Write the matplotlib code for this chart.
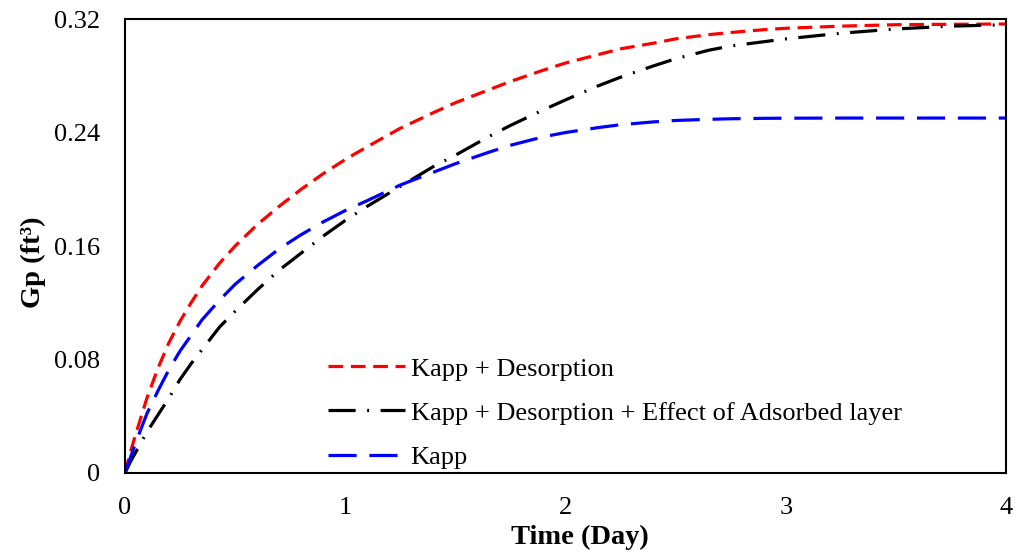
import matplotlib
matplotlib.use("Agg")
import matplotlib.pyplot as plt

plt.rcParams['font.family'] = ['Liberation Serif', 'DejaVu Serif']

time_days = [0, 0.025, 0.05, 0.1, 0.15, 0.2, 0.25, 0.3, 0.35, 0.43, 0.5, 0.6,
             0.7, 0.8, 0.9, 1.0, 1.1, 1.25, 1.4, 1.5, 1.65, 1.75, 1.9, 2.0,
             2.15, 2.25, 2.4, 2.5, 2.65, 2.75, 2.9, 3.0, 3.25, 3.5, 3.75, 4.0]
gp_kapp_desorption = [0, 0.015, 0.028, 0.053, 0.074, 0.092, 0.107, 0.120, 0.132,
                      0.148, 0.160, 0.175, 0.188, 0.200, 0.211, 0.221, 0.230,
                      0.243, 0.254, 0.261, 0.270, 0.276, 0.284, 0.289, 0.295,
                      0.299, 0.303, 0.306, 0.309, 0.3105, 0.3125, 0.3135,
                      0.315, 0.316, 0.3163, 0.3165]
gp_kapp_desorption_adsorbed = [0, 0.008, 0.015, 0.029, 0.041, 0.053, 0.066,
                               0.077, 0.087, 0.103, 0.114, 0.129, 0.143, 0.155,
                               0.167, 0.178, 0.188, 0.202, 0.216, 0.224, 0.237,
                               0.245, 0.256, 0.263, 0.273, 0.279, 0.287, 0.292,
                               0.298, 0.301, 0.304, 0.306, 0.310, 0.313, 0.315,
                               0.316]
gp_kapp = [0, 0.011, 0.022, 0.042, 0.058, 0.073, 0.086, 0.097, 0.108, 0.122,
           0.133, 0.146, 0.158, 0.168, 0.177, 0.185, 0.192, 0.203, 0.212,
           0.218, 0.226, 0.231, 0.237, 0.240, 0.2435, 0.2455, 0.2475, 0.2485,
           0.2493, 0.2497, 0.25, 0.2501, 0.2502, 0.2502, 0.2502, 0.2502]

series_labels = ["Kapp + Desorption",
                 "Kapp + Desorption + Effect of Adsorbed layer",
                 "Kapp"]
x_ticks = [0, 1, 2, 3, 4]
y_ticks = [0, 0.08, 0.16, 0.24, 0.32]
y_tick_labels = ["0", "0.08", "0.16", "0.24", "0.32"]

fig = plt.figure(figsize=(10.17, 5.6), dpi=100)
ax = fig.add_axes([0.1229, 0.1554, 0.8663, 0.8106])

lw = 2.3
ax.plot(time_days, gp_kapp_desorption, color='#FF0000', lw=lw,
        dashes=(4.6, 2.4), label=series_labels[0])
ax.plot(time_days, gp_kapp_desorption_adsorbed, color='#000000', lw=lw,
        dashes=(8.5, 3.6, 0.6, 3.6), label=series_labels[1])
ax.plot(time_days, gp_kapp, color='#0000FF', lw=lw,
        dashes=(8.8, 4.0), label=series_labels[2])

ax.set_xlim(0, 4)
ax.set_ylim(0, 0.32)
ax.set_xticks(x_ticks)
ax.set_xticklabels([str(t) for t in x_ticks])
ax.set_yticks(y_ticks)
ax.set_yticklabels(y_tick_labels)
ax.tick_params(axis='both', length=0, labelsize=19)
ax.tick_params(axis='x', pad=17)
ax.tick_params(axis='y', pad=18)
for s in ax.spines.values():
    s.set_linewidth(1.5)
    s.set_color('black')

ax.set_xlabel("Time (Day)", fontsize=20.5, fontweight='bold', labelpad=0)
ax.xaxis.set_label_coords(0.516, -0.115)
ax.set_ylabel("Gp (ft³)", fontsize=20.5, fontweight='bold')
ax.yaxis.set_label_coords(-0.09, 0.465)

leg = ax.legend(loc='lower left', bbox_to_anchor=(0.203, -0.043), frameon=False,
                fontsize=19, handlelength=2.95, handletextpad=0.2,
                labelspacing=0.78)

fig.savefig("out.png", dpi=100)
